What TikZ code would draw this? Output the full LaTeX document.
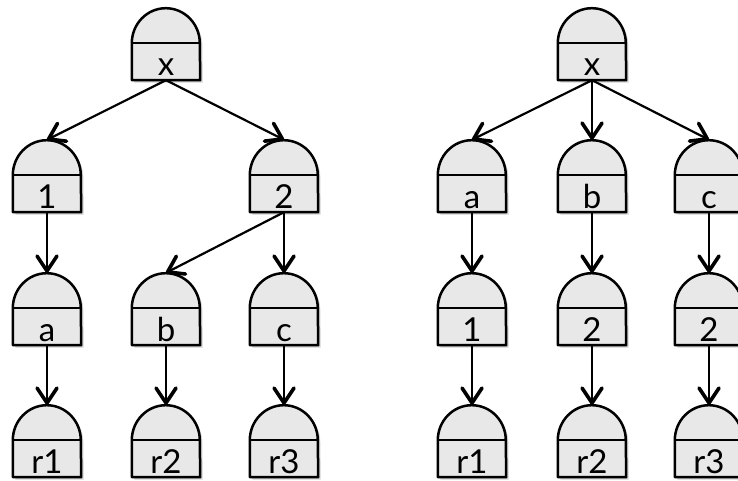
\documentclass[tikz,border=0pt]{standalone}
\usepackage{fontspec}
\setsansfont{Lato}
\usetikzlibrary{arrows.meta}
\pgfdeclarelayer{background}
\pgfsetlayers{background,main}
\definecolor{gatefill}{HTML}{E8E8E8}
\definecolor{gateshadow}{HTML}{9A9A9A}
\tikzset{
  % a gate: dome on top of a labelled box; the node spans the whole outline
  gate/.style={minimum width=68pt, minimum height=72pt, inner sep=0pt,
    text height=68pt, text depth=4pt,
    font=\sffamily\fontsize{33}{33}\selectfont,
    append after command={\pgfextra{%
      \begin{pgfonlayer}{background}
        \fill[gateshadow, opacity=.45, transform canvas={shift={(2.5pt,-2.5pt)}}]
          (\tikzlastnode.south west) -- ([yshift=37pt]\tikzlastnode.south west)
          arc[start angle=180, end angle=0, x radius=34pt, y radius=35pt]
          -- (\tikzlastnode.south east) -- cycle;
        \draw[line width=2.5pt, fill=gatefill, line join=round]
          (\tikzlastnode.south west) -- ([yshift=37pt]\tikzlastnode.south west)
          arc[start angle=180, end angle=0, x radius=34pt, y radius=35pt]
          -- (\tikzlastnode.south east) -- cycle;
        \draw[line width=2.3pt]
          ([yshift=37pt]\tikzlastnode.south west) -- ([yshift=37pt]\tikzlastnode.south east);
      \end{pgfonlayer}}}},
  link/.style={line width=2.2pt,
    -{Straight Barb[length=15pt, width=20pt, line width=3.6pt, round]}}
}
\begin{document}
\begin{tikzpicture}[x=1pt, y=1pt]
  \useasboundingbox (0,0) rectangle (738,480);

  % left tree
  \node[gate] (lx)  at (166,436) {x};
  \node[gate] (l1)  at (47,304)  {1};
  \node[gate] (l2)  at (284,304) {2};
  \node[gate] (la)  at (47,171)  {a};
  \node[gate] (lb)  at (166,171) {b};
  \node[gate] (lc)  at (284,171) {c};
  \node[gate] (lr1) at (47,39)   {r1};
  \node[gate] (lr2) at (166,39)  {r2};
  \node[gate] (lr3) at (284,39)  {r3};

  \draw[link] (lx.south) -- (l1.north);
  \draw[link] (lx.south) -- (l2.north);
  \draw[link] (l1.south) -- (la.north);
  \draw[link] (l2.south) -- (lb.north);
  \draw[link] (l2.south) -- (lc.north);
  \draw[link] (la.south) -- (lr1.north);
  \draw[link] (lb.south) -- (lr2.north);
  \draw[link] (lc.south) -- (lr3.north);

  % right tree
  \node[gate] (rx)  at (592,436) {x};
  \node[gate] (ra)  at (472,304) {a};
  \node[gate] (rb)  at (592,304) {b};
  \node[gate] (rc)  at (709,304) {c};
  \node[gate] (ra1) at (472,171) {1};
  \node[gate] (rb2) at (592,171) {2};
  \node[gate] (rc2) at (709,171) {2};
  \node[gate] (rr1) at (472,39)  {r1};
  \node[gate] (rr2) at (592,39)  {r2};
  \node[gate] (rr3) at (709,39)  {r3};

  \draw[link] (rx.south) -- (ra.north);
  \draw[link] (rx.south) -- (rb.north);
  \draw[link] (rx.south) -- (rc.north);
  \draw[link] (ra.south) -- (ra1.north);
  \draw[link] (rb.south) -- (rb2.north);
  \draw[link] (rc.south) -- (rc2.north);
  \draw[link] (ra1.south) -- (rr1.north);
  \draw[link] (rb2.south) -- (rr2.north);
  \draw[link] (rc2.south) -- (rr3.north);
\end{tikzpicture}
\end{document}
